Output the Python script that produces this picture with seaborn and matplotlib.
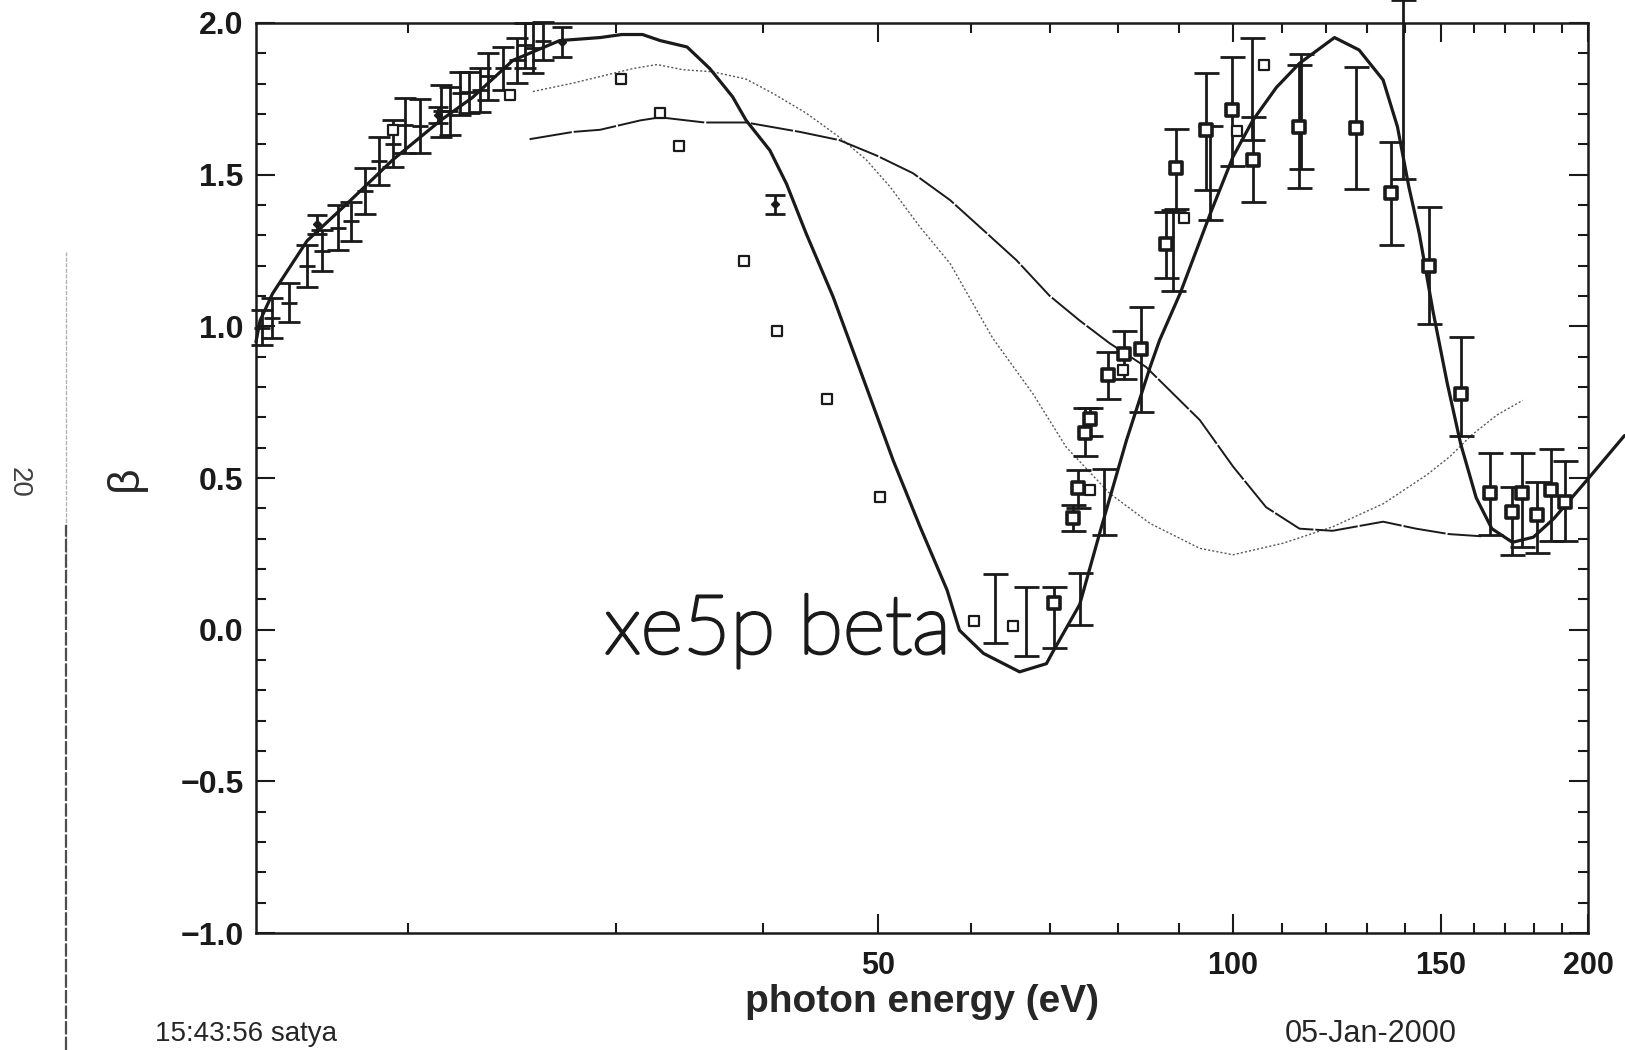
import numpy as np
import matplotlib
matplotlib.use("Agg")
import matplotlib.pyplot as plt
import matplotlib.patheffects as pe
from matplotlib.ticker import FixedLocator, NullFormatter
from matplotlib.lines import Line2D
import seaborn as sns

# ---- data ----
# left data set (bars with a centre tick)
left_x = [15.04, 15.32, 15.86, 16.42, 16.92, 17.45, 17.88, 18.39, 18.88, 19.41, 19.89, 20.46,
          21.31, 21.69, 22.14, 22.54, 23.00, 23.38, 24.05, 24.74, 25.14, 25.51, 26.03]
left_y = [0.995, 1.028, 1.078, 1.199, 1.250, 1.325, 1.346, 1.446, 1.546, 1.602, 1.663, 1.662,
          1.710, 1.710, 1.768, 1.771, 1.780, 1.824, 1.850, 1.877, 1.927, 1.918, 1.940]
left_lo = [0.937, 0.961, 1.013, 1.129, 1.183, 1.252, 1.282, 1.371, 1.467, 1.525, 1.573, 1.573,
           1.624, 1.631, 1.696, 1.703, 1.706, 1.747, 1.778, 1.802, 1.853, 1.836, 1.877]
left_hi = [1.053, 1.094, 1.142, 1.269, 1.317, 1.399, 1.409, 1.522, 1.624, 1.679, 1.754, 1.751,
           1.795, 1.788, 1.839, 1.839, 1.853, 1.901, 1.921, 1.952, 2.000, 2.000, 2.003]

# small star points with short bars
star_x = [16.75, 21.22, 26.99, 40.93]
star_y = [1.337, 1.696, 1.937, 1.402]
star_lo = [1.306, 1.670, 1.887, 1.371]
star_hi = [1.368, 1.722, 1.986, 1.433]

# open squares, no bars
sq_x = [19.41, 24.39, 30.29, 32.70, 33.91, 38.52, 41.09, 45.28, 50.2, 60.35, 65.17,
        75.67, 80.75, 90.95, 100.85, 106.3]
sq_y = [1.648, 1.761, 1.815, 1.703, 1.593, 1.214, 0.985, 0.760, 0.438, 0.028, 0.011,
        0.462, 0.855, 1.358, 1.645, 1.863]

# bold squares with error bars
bs_x = [70.51, 73.27, 73.87, 74.93, 75.67, 78.33, 80.92, 83.57, 87.74, 89.49, 94.91, 99.84,
        103.98, 113.9, 127.2, 136.2, 146.6, 156.0, 165.1, 172.3, 175.8, 180.9, 186.1, 191.4]
bs_y = [0.087, 0.367, 0.466, 0.650, 0.695, 0.838, 0.910, 0.924, 1.272, 1.522, 1.648, 1.713,
        1.549, 1.658, 1.655, 1.440, 1.200, 0.777, 0.449, 0.387, 0.449, 0.377, 0.462, 0.421]
bs_lo = [-0.062, 0.326, 0.401, 0.572, 0.637, 0.760, 0.828, 0.719, 1.159, 1.388, 1.450, 1.528,
         1.409, 1.457, 1.453, 1.269, 1.009, 0.640, 0.312, 0.247, 0.274, 0.254, 0.292, 0.292]
bs_hi = [0.141, 0.411, 0.527, 0.732, 0.732, 0.917, 0.985, 1.064, 1.378, 1.651, 1.836, 1.887,
         1.689, 1.860, 1.856, 1.607, 1.392, 0.965, 0.582, 0.469, 0.582, 0.486, 0.596, 0.555]

# bars drawn without a marker
eb_x = [62.84, 66.77, 74.17, 77.85, 88.95, 95.69, 103.8, 114.3, 139.3]
eb_lo = [-0.043, -0.088, 0.015, 0.312, 1.118, 1.351, 1.614, 1.518, 1.487]
eb_hi = [0.182, 0.141, 0.186, 0.531, 1.382, 1.662, 1.952, 1.897, 2.075]

# theory curve 1 (heavy solid)
c1_x = [14.86, 14.98, 15.35, 16.42, 17.88, 19.41, 21.31, 22.67, 24.54, 26.88, 29.09, 30.35,
        31.60, 32.71, 34.47, 36.03, 37.67, 38.68, 40.52, 41.85, 43.49, 45.83, 48.90, 51.54,
        54.32, 57.25, 58.66, 61.46, 65.96, 69.51, 70.36, 74.17, 77.22, 81.24, 85.10, 86.68,
        90.22, 95.69, 100.04, 103.98, 108.9, 113.9, 121.96, 127.96, 134.1, 137.9, 141.0,
        143.9, 147.8, 152.0, 156.0, 160.8, 165.8, 172.6, 179.8, 187.2, 200.0, 214.8]
c1_y = [0.948, 1.019, 1.108, 1.282, 1.416, 1.549, 1.679, 1.754, 1.877, 1.942, 1.952, 1.962,
        1.962, 1.942, 1.921, 1.850, 1.757, 1.679, 1.580, 1.470, 1.306, 1.098, 0.801, 0.558,
        0.339, 0.131, -0.002, -0.078, -0.139, -0.112, -0.074, 0.083, 0.326, 0.623, 0.866, 0.954,
        1.108, 1.371, 1.559, 1.679, 1.788, 1.867, 1.952, 1.911, 1.812, 1.658, 1.460,
        1.306, 1.050, 0.811, 0.613, 0.435, 0.333, 0.288, 0.305, 0.367, 0.497, 0.640]

# theory curve 2 (thin solid)
c2_x = [25.35, 27.60, 29.09, 31.47, 32.71, 35.67, 38.68, 42.96, 46.39, 49.90, 53.56, 57.60,
        61.46, 65.56, 69.93, 74.17, 78.65, 84.42, 93.77, 100.04, 106.7, 113.9, 121.5, 134.1,
        143.0, 152.6, 162.4]
c2_y = [1.617, 1.641, 1.648, 1.679, 1.689, 1.672, 1.672, 1.641, 1.614, 1.563, 1.505, 1.416,
        1.317, 1.218, 1.101, 1.019, 0.944, 0.866, 0.691, 0.538, 0.404, 0.333, 0.326, 0.356,
        0.333, 0.315, 0.308]

# theory curve 3 (faint dotted)
c3_x = [25.51, 27.60, 31.03, 32.51, 34.19, 36.25, 38.68, 40.76, 43.49, 46.39, 48.90, 51.23,
        54.32, 57.60, 62.59, 67.72, 72.24, 78.65, 85.10, 93.77, 100.04, 110.3, 121.5, 134.1,
        146.0, 152.9, 159.2, 167.5, 176.1]
c3_y = [1.774, 1.802, 1.850, 1.863, 1.846, 1.839, 1.815, 1.768, 1.703, 1.624, 1.549, 1.460,
        1.327, 1.207, 0.961, 0.777, 0.602, 0.449, 0.350, 0.268, 0.247, 0.285, 0.339, 0.415,
        0.510, 0.572, 0.640, 0.708, 0.756]

x_major = [50, 100, 150, 200]
x_minor = [20, 30, 40, 60, 70, 80, 90, 110, 120, 130, 140, 160, 170, 180, 190]


def yerr(y, lo, hi):
    y, lo, hi = np.array(y), np.array(lo), np.array(hi)
    return [y - lo, hi - y]


sns.set_theme(style="ticks")
plt.rcParams["font.family"] = ["Liberation Sans", "DejaVu Sans"]

fig = plt.figure(figsize=(16.25, 10.5), dpi=100)
ax = fig.add_axes([0.1575, 0.1114, 0.8197, 0.8667])
ax.set_xscale("log")

# theory curves
sns.lineplot(x=c3_x, y=c3_y, ax=ax, color="0.35", lw=1.0, ls=(0, (1.5, 1.5)),
             sort=False, estimator=None)
sns.lineplot(x=c2_x, y=c2_y, ax=ax, color="k", lw=1.4, ls=(0, (22, 1.0)),
             sort=False, estimator=None)
sns.lineplot(x=c1_x, y=c1_y, ax=ax, color="k", lw=2.3, sort=False, estimator=None)
ax.lines[-1].set_clip_on(False)

# data with bars
ax.errorbar(left_x, left_y, yerr=yerr(left_y, left_lo, left_hi), fmt="_", ms=11, mew=2,
            color="k", ecolor="k", elinewidth=2, capsize=8, capthick=2, clip_on=False)
ax.errorbar(star_x, star_y, yerr=yerr(star_y, star_lo, star_hi), fmt="D", ms=4,
            color="k", elinewidth=2, capsize=7, capthick=2)
ax.errorbar(bs_x, bs_y, yerr=yerr(bs_y, bs_lo, bs_hi), fmt="none",
            ecolor="k", elinewidth=2, capsize=9, capthick=2)
ax.errorbar(eb_x, [(a + b) / 2 for a, b in zip(eb_lo, eb_hi)],
            yerr=[[(b - a) / 2 for a, b in zip(eb_lo, eb_hi)]] * 2, fmt="none",
            ecolor="k", elinewidth=2, capsize=9, capthick=2, clip_on=False)
sns.scatterplot(x=bs_x, y=bs_y, ax=ax, marker="s", s=75, facecolor="white",
                edgecolor="k", linewidth=2.6, zorder=5)
sns.scatterplot(x=sq_x, y=sq_y, ax=ax, marker="s", s=50, facecolor="white",
                edgecolor="k", linewidth=1.6, zorder=5)

ax.text(29.33, -0.078, "xe5p beta", fontsize=59, family=["Lato", "DejaVu Sans"],
        fontweight="light", color="k", ha="left", va="baseline",
        path_effects=[pe.withStroke(linewidth=2.2, foreground="k")])

ax.set_xlim(14.86, 200)
ax.set_ylim(-1.0, 2.0)
ax.xaxis.set_major_locator(FixedLocator(x_major))
ax.xaxis.set_minor_locator(FixedLocator(x_minor))
ax.xaxis.set_minor_formatter(NullFormatter())
ax.set_xticklabels([str(v) for v in x_major])
ax.set_yticks(np.arange(-1.0, 2.01, 0.5))
ax.set_yticklabels(["\u22121.0", "\u22120.5", "0.0", "0.5", "1.0", "1.5", "2.0"])
ax.yaxis.set_minor_locator(FixedLocator(np.arange(-1.0, 2.0, 0.1)))

ax.tick_params(which="both", direction="in", top=True, right=True, width=1.5, colors="k")
ax.tick_params(which="major", length=14)
ax.tick_params(which="minor", length=7)
ax.tick_params(axis="y", labelsize=23, pad=9)
ax.tick_params(axis="x", labelsize=22, pad=13)
for lab in ax.get_xticklabels() + ax.get_yticklabels():
    lab.set_fontweight("bold")
for sp in ax.spines.values():
    sp.set_linewidth(1.8)
    sp.set_color("k")

ax.set_xlabel("photon energy (eV)", fontsize=28, fontweight="bold", labelpad=2)
ax.set_ylabel("\u03b2", fontsize=32, rotation=90)
ax.yaxis.set_label_coords(-0.083, 0.5)

fig.text(155 / 1625, 0.015, "15:43:56 satya", fontsize=20, va="center", ha="left")
fig.text(1285 / 1625, 0.015, "05-Jan-2000", fontsize=22, va="center", ha="left")
fig.text(19 / 1625, 1 - 482 / 1050, "20", fontsize=20, rotation=270, va="center",
         ha="center", color="0.25")
fig.add_artist(Line2D([66 / 1625, 66 / 1625], [0.45, 0.76], transform=fig.transFigure,
                      color="0.7", lw=1.0, ls=(0, (3, 1))))
fig.add_artist(Line2D([66 / 1625, 66 / 1625], [0.0, 0.5], transform=fig.transFigure,
                      color="0.3", lw=1.6, ls=(0, (6, 1))))

fig.savefig("out.png", dpi=100, facecolor="white")
